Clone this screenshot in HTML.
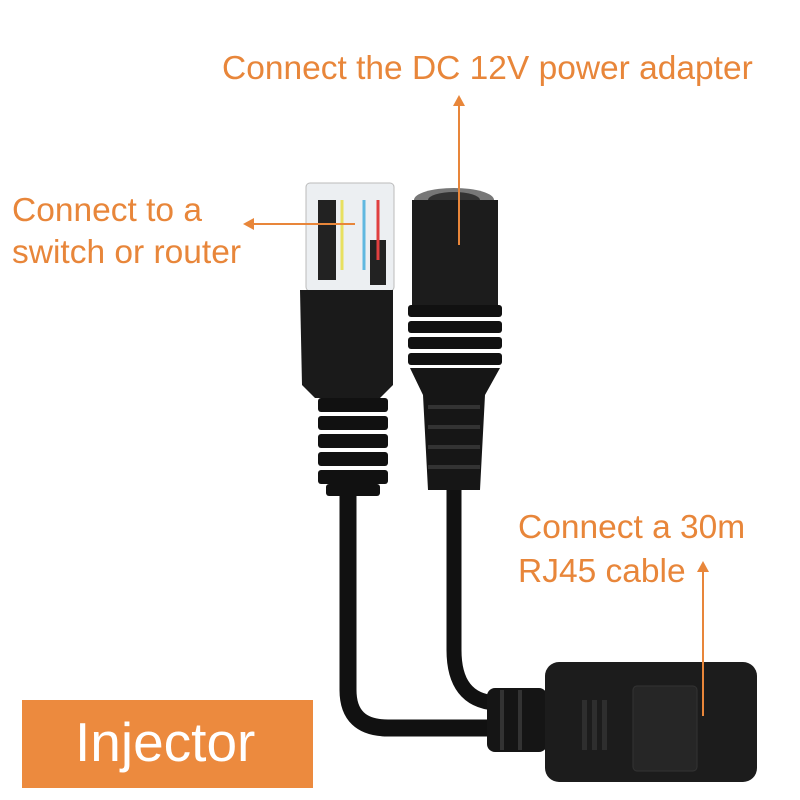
<!DOCTYPE html>
<html><head><style>
html,body{margin:0;padding:0;background:#fff;}
svg{display:block}
text{font-family:"Liberation Sans",sans-serif;}
</style></head><body>
<svg width="800" height="800" viewBox="0 0 800 800" xmlns="http://www.w3.org/2000/svg">
<rect width="800" height="800" fill="#fff"/>
<path d="M348 490 L348 690 Q348 728 388 728 L500 728" stroke="#111" stroke-width="17" fill="none"/>
<path d="M454 490 L454 650 Q454 700 495 703" stroke="#111" stroke-width="15" fill="none"/>
<rect x="306" y="183" width="88" height="108" rx="4" fill="#eceff2" stroke="#bbb"/>
<rect x="318" y="200" width="18" height="80" fill="#222"/>
<rect x="370" y="240" width="16" height="45" fill="#222"/>
<line x1="342" y1="200" x2="342" y2="270" stroke="#e8e060" stroke-width="3"/>
<line x1="364" y1="200" x2="364" y2="270" stroke="#60b8e0" stroke-width="3"/>
<line x1="378" y1="200" x2="378" y2="260" stroke="#e04040" stroke-width="3"/>
<path d="M300 290 L393 290 L393 385 L380 398 L315 398 L302 385 Z" fill="#1a1a1a"/>
<g fill="#111">
<rect x="318" y="398" width="70" height="14" rx="3"/>
<rect x="318" y="416" width="70" height="14" rx="3"/>
<rect x="318" y="434" width="70" height="14" rx="3"/>
<rect x="318" y="452" width="70" height="14" rx="3"/>
<rect x="318" y="470" width="70" height="14" rx="3"/>
<rect x="326" y="484" width="54" height="12" rx="3"/>
</g>
<ellipse cx="454" cy="200" rx="40" ry="12" fill="#777"/>
<ellipse cx="454" cy="200" rx="26" ry="8" fill="#333"/>
<path d="M412 200 L498 200 L498 305 L412 305 Z" fill="#1c1c1c"/>
<g fill="#111">
<rect x="408" y="305" width="94" height="12" rx="3"/>
<rect x="408" y="321" width="94" height="12" rx="3"/>
<rect x="408" y="337" width="94" height="12" rx="3"/>
<rect x="408" y="353" width="94" height="12" rx="3"/>
</g>
<path d="M410 368 L500 368 L485 395 L480 490 L428 490 L423 395 Z" fill="#161616"/>
<g fill="#333"><rect x="428" y="405" width="52" height="4"/><rect x="428" y="425" width="52" height="4"/><rect x="428" y="445" width="52" height="4"/><rect x="428" y="465" width="52" height="4"/></g>
<rect x="487" y="688" width="60" height="64" rx="8" fill="#151515"/>
<g fill="#333"><rect x="500" y="690" width="4" height="60"/><rect x="518" y="690" width="4" height="60"/></g>
<rect x="545" y="662" width="212" height="120" rx="14" fill="#1c1c1c"/>
<rect x="633" y="686" width="64" height="85" rx="4" fill="#262626" stroke="#333"/>
<g fill="#2e2e2e"><rect x="582" y="700" width="5" height="50"/><rect x="592" y="700" width="5" height="50"/><rect x="602" y="700" width="5" height="50"/></g>
<g fill="#e8863a" font-size="33.5">
<text x="222" y="79">Connect the DC 12V power adapter</text>
<text x="12" y="221">Connect to a</text>
<text x="12" y="263">switch or router</text>
<text x="518" y="538">Connect a 30m</text>
<text x="518" y="582">RJ45 cable</text>
</g>
<g stroke="#e8863a" stroke-width="2" fill="#e8863a">
<line x1="459" y1="104" x2="459" y2="245"/><path d="M453 106 L459 95 L465 106 Z" stroke="none"/>
<line x1="252" y1="224" x2="355" y2="224"/><path d="M254 218 L243 224 L254 230 Z" stroke="none"/>
<line x1="703" y1="570" x2="703" y2="716"/><path d="M697 572 L703 561 L709 572 Z" stroke="none"/>
</g>
<rect x="22" y="700" width="291" height="88" fill="#ec8a3e"/>
<text x="75" y="761" fill="#fff" font-size="55">Injector</text>
</svg>
</body></html>
